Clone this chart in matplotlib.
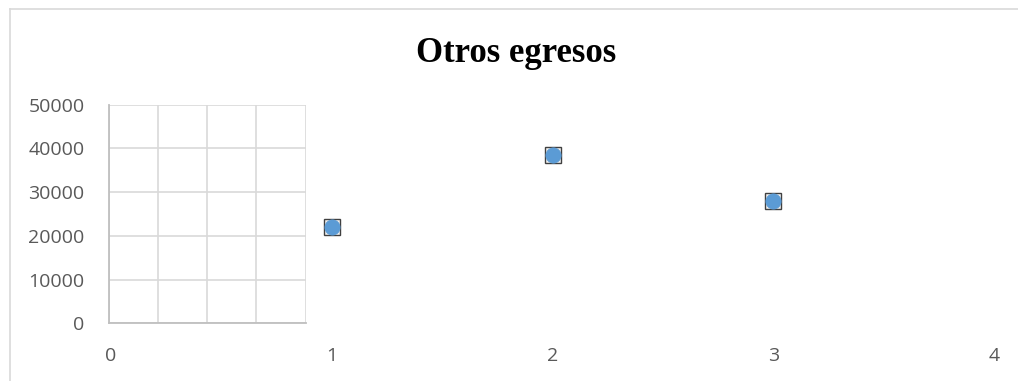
import matplotlib.pyplot as plt
from matplotlib.patches import Rectangle

# Scatter data: period number vs. amount
periods = [1, 2, 3]
otros_egresos = [22000, 38600, 28000]

x_ticks = [0, 1, 2, 3, 4]
y_ticks = [0, 10000, 20000, 30000, 40000, 50000]

W, H = 1018, 381
fig = plt.figure(figsize=(W / 100, H / 100), dpi=100)
fig.patch.set_facecolor('white')

# light chart-area border (open at right and bottom)
fig.add_artist(plt.Line2D([10 / W, 10 / W], [0, 1 - 8.7 / H], transform=fig.transFigure,
                          color='#D9D9D9', lw=1.2))
fig.add_artist(plt.Line2D([10 / W, 1], [1 - 8.7 / H, 1 - 8.7 / H], transform=fig.transFigure,
                          color='#D9D9D9', lw=1.2))

def px_box(x0, x1, y_top, y_bot):
    return [x0 / W, 1 - y_bot / H, (x1 - x0) / W, (y_bot - y_top) / H]

# small gridded plot area
grid_ax = fig.add_axes(px_box(108.5, 305.7, 104.8, 323.3))
grid_ax.set_xlim(0, 4)
grid_ax.set_ylim(0, 5)
grid_ax.set_xticks(range(5))
grid_ax.set_yticks(range(6))
grid_ax.grid(True, color='#D9D9D9', lw=1.2)
grid_ax.tick_params(length=0, labelleft=False, labelbottom=False)
for side in ['top', 'right']:
    grid_ax.spines[side].set_visible(False)
for side in ['left', 'bottom']:
    grid_ax.spines[side].set_color('#BFBFBF')
    grid_ax.spines[side].set_linewidth(1.3)

# main axes carrying the ticks and the points
ax = fig.add_axes(px_box(111, 994, 104.8, 323.3))
ax.patch.set_alpha(0)
ax.set_xlim(0, 4)
ax.set_ylim(0, 50000)
ax.set_xticks(x_ticks)
ax.set_yticks(y_ticks)
for s in ax.spines.values():
    s.set_visible(False)
ax.tick_params(length=0, colors='#595959', labelsize=14)
ax.tick_params(axis='y', pad=19)
ax.tick_params(axis='x', pad=17)
for lbl in ax.get_xticklabels() + ax.get_yticklabels():
    lbl.set_fontfamily('Open Sans')

ax.plot(periods, otros_egresos, linestyle='none', marker='s', markersize=12,
        markerfacecolor='#F2F2F2', markeredgecolor='#404040', markeredgewidth=1.0,
        clip_on=False)
ax.plot(periods, otros_egresos, linestyle='none', marker='o', markersize=11,
        markerfacecolor='#5B9BD5', markeredgecolor='#5B9BD5', markeredgewidth=0.5,
        clip_on=False)

fig.text(516.5 / W, 1 - 54 / H, 'Otros egresos', ha='center', va='center',
         fontsize=25, fontweight='bold', family='Liberation Serif', color='black')

fig.savefig('out.png', dpi=100)
